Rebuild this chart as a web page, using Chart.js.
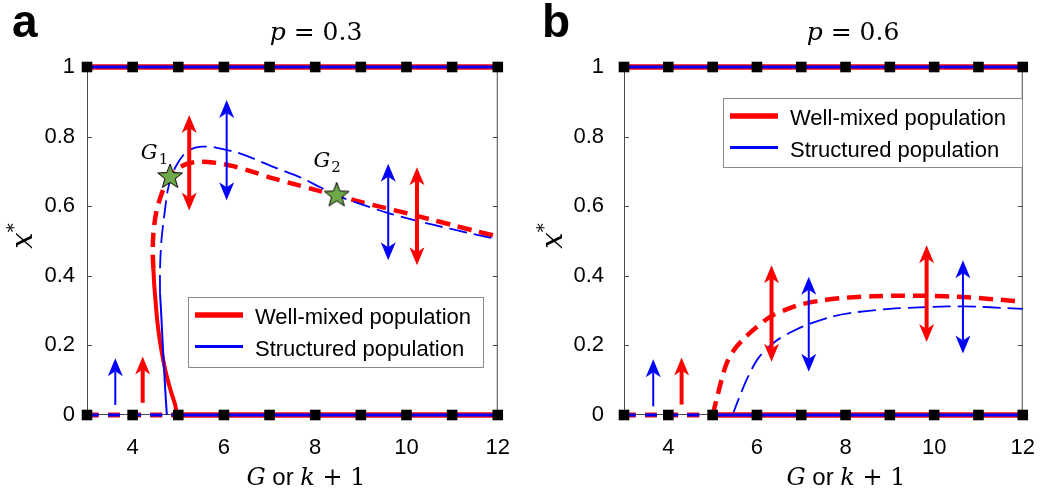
<!DOCTYPE html>
<html>
<head>
<meta charset="utf-8">
<script src="https://cdn.jsdelivr.net/npm/chart.js@4.4.0/dist/chart.umd.min.js"></script>
<style>
  html, body { margin: 0; padding: 0; background: #fff; }
  #wrap { position: relative; width: 1055px; height: 497px; }
  .panel { position: absolute; top: 0; height: 497px; }
</style>
</head>
<body>
<div id="wrap">
  <div class="panel" style="left:0;width:530px"><canvas id="chartA" width="530" height="497"></canvas></div>
  <div class="panel" style="left:530px;width:525px"><canvas id="chartB" width="525" height="497"></canvas></div>
</div>
<script>
// ---- data ----
var xTicks = [4, 6, 8, 10, 12];
var yTicks = [0, 0.2, 0.4, 0.6, 0.8, 1];
var squareX = [3, 4, 5, 6, 7, 8, 9, 10, 11, 12];
var zeroUnstableX = [3, 5];
var zeroStableX = [5, 12];
var oneStableX = [3, 12];

// panel a, p = 0.3
var aWellSolid = [[4.97, 0], [4.93, 0.03], [4.85, 0.063], [4.75, 0.11], [4.67, 0.158], [4.6, 0.21],
  [4.54, 0.27], [4.5, 0.33], [4.47, 0.38], [4.455, 0.42]];
var aWellDashed = [[4.455, 0.42], [4.44, 0.47], [4.46, 0.53], [4.52, 0.585], [4.62, 0.63], [4.72, 0.662],
  [4.82, 0.684], [5.0, 0.708], [5.2, 0.722], [5.5, 0.728], [5.8, 0.725], [6.2, 0.715], [6.6, 0.7],
  [7.08, 0.68], [7.5, 0.665], [8, 0.647], [8.47, 0.631], [9, 0.612], [9.5, 0.596], [10, 0.58],
  [10.5, 0.563], [11, 0.546], [11.5, 0.529], [12, 0.513]];
var aStructSolid = [[4.75, 0], [4.72, 0.06], [4.69, 0.13], [4.66, 0.2], [4.63, 0.28], [4.6, 0.35]];
var aStructDashed = [[4.6, 0.35], [4.6, 0.42], [4.63, 0.5], [4.69, 0.57], [4.77, 0.646], [4.86, 0.69],
  [4.97, 0.72], [5.1, 0.745], [5.25, 0.762], [5.5, 0.771], [5.8, 0.769], [6.36, 0.751], [7.08, 0.713],
  [7.67, 0.683], [8.1, 0.655], [8.47, 0.631], [9, 0.606], [9.6, 0.58], [10, 0.566], [10.5, 0.549],
  [11, 0.534], [11.5, 0.519], [12, 0.505]];
var aStars = [[4.82, 0.684], [8.47, 0.631]];
var aStarNames = ['1', '2'];
var aStarLabelAt = [[4.18, 0.737], [7.96, 0.712]];
// arrows: [x, base, tip]
var aWellArrows = [[4.22, 0.035, 0.168], [5.24, 0.727, 0.862], [5.24, 0.727, 0.588],
  [10.23, 0.57, 0.712], [10.23, 0.57, 0.43]];
var aStructArrows = [[3.62, 0.029, 0.163], [6.06, 0.76, 0.905], [6.06, 0.76, 0.617],
  [9.6, 0.58, 0.722], [9.6, 0.58, 0.445]];

// panel b, p = 0.6
var bWellDashed = [[5, 0], [5.1, 0.05], [5.2, 0.1], [5.32, 0.15], [5.5, 0.19], [5.75, 0.225], [5.97, 0.25],
  [6.33, 0.285], [6.7, 0.305], [7, 0.318], [7.5, 0.33], [8, 0.337], [8.6, 0.341], [9.3, 0.343],
  [10, 0.342], [10.5, 0.34], [11, 0.336], [11.5, 0.331], [12, 0.326]];
var bStructDashed = [[5.45, 0], [5.6, 0.05], [5.8, 0.11], [6.04, 0.165], [6.4, 0.21], [6.8, 0.24],
  [7.17, 0.261], [7.7, 0.283], [8.22, 0.295], [9, 0.305], [9.67, 0.309], [10.3, 0.312], [11, 0.311],
  [11.5, 0.308], [12, 0.305]];
var bWellArrows = [[4.3, 0.03, 0.165], [6.33, 0.288, 0.43], [6.33, 0.288, 0.153],
  [9.83, 0.342, 0.488], [9.83, 0.342, 0.21]];
var bStructArrows = [[3.66, 0.025, 0.16], [7.17, 0.261, 0.397], [7.17, 0.261, 0.124],
  [10.65, 0.312, 0.445], [10.65, 0.312, 0.177]];

var RED = '#ff0000', BLUE = '#0000ff';
var SANS = '"Liberation Sans", Arial, sans-serif';
var SERIF = '"DejaVu Serif", serif';

function pts(arr) { return arr.map(function (p) { return {x: p[0], y: p[1]}; }); }
function flat(xs, y) { return xs.map(function (x) { return {x: x, y: y}; }); }

function starImage(r, fill) {
  var c = document.createElement('canvas');
  c.width = c.height = 2 * r + 4;
  var g = c.getContext('2d');
  g.translate(r + 2, r + 2);
  g.beginPath();
  for (var i = 0; i < 10; i++) {
    var rr = i % 2 ? r * 0.42 : r;
    var a = -Math.PI / 2 + i * Math.PI / 5;
    g.lineTo(rr * Math.cos(a), rr * Math.sin(a));
  }
  g.closePath();
  g.fillStyle = fill;
  g.fill();
  g.lineWidth = 1;
  g.strokeStyle = '#000';
  g.stroke();
  return c;
}

function line(data, color, width, dash, order, label) {
  return {
    label: label || '', data: data, borderColor: color, borderWidth: width, borderDash: dash || [],
    pointRadius: 0, tension: 0.3, clip: false, order: order, fill: false, inLegend: !!label
  };
}

function drawArrow(ctx, x, yb, yt, color, w) {
  var d = yt < yb ? -1 : 1;
  var hl = 18, hw = 7.5, notch = 13;
  ctx.save();
  ctx.strokeStyle = color;
  ctx.lineWidth = w;
  ctx.beginPath();
  ctx.moveTo(x, yb);
  ctx.lineTo(x, yt - d * notch);
  ctx.stroke();
  ctx.fillStyle = color;
  ctx.beginPath();
  ctx.moveTo(x, yt);
  ctx.lineTo(x - hw, yt - d * hl);
  ctx.lineTo(x, yt - d * notch);
  ctx.lineTo(x + hw, yt - d * hl);
  ctx.closePath();
  ctx.fill();
  ctx.restore();
}

// mixed-font text, centred on cx
function drawRuns(ctx, runs, cx, y) {
  var total = 0;
  runs.forEach(function (r) { ctx.font = r.f; r.w = ctx.measureText(r.t).width; total += r.w; });
  var x = cx - total / 2;
  ctx.textBaseline = 'alphabetic';
  ctx.textAlign = 'left';
  runs.forEach(function (r) { ctx.font = r.f; ctx.fillText(r.t, x, y + (r.dy || 0)); x += r.w; });
}

function decor(cfg) {
  return {
    id: 'decor',
    beforeDatasetsDraw: function (chart) {
      var ctx = chart.ctx, a = chart.chartArea, xs = chart.scales.x, ys = chart.scales.y;
      ctx.save();
      ctx.strokeStyle = '#4a4a4a';
      ctx.lineWidth = 1;
      ctx.strokeRect(a.left + 0.5, a.top + 0.5, a.right - a.left - 1, a.bottom - a.top - 1);
      ctx.beginPath();
      yTicks.forEach(function (v) {
        var py = Math.round(ys.getPixelForValue(v)) + 0.5;
        ctx.moveTo(a.left, py); ctx.lineTo(a.left + 5, py);
        ctx.moveTo(a.right, py); ctx.lineTo(a.right - 5, py);
      });
      xTicks.forEach(function (v) {
        var px = Math.round(xs.getPixelForValue(v)) + 0.5;
        ctx.moveTo(px, a.bottom); ctx.lineTo(px, a.bottom - 5);
        ctx.moveTo(px, a.top); ctx.lineTo(px, a.top + 5);
      });
      ctx.stroke();
      ctx.restore();
    },
    afterDatasetsDraw: function (chart) {
      var ctx = chart.ctx, xs = chart.scales.x, ys = chart.scales.y;
      cfg.wellArrows.forEach(function (r) {
        drawArrow(ctx, xs.getPixelForValue(r[0]), ys.getPixelForValue(r[1]), ys.getPixelForValue(r[2]), RED, 4);
      });
      cfg.structArrows.forEach(function (r) {
        drawArrow(ctx, xs.getPixelForValue(r[0]), ys.getPixelForValue(r[1]), ys.getPixelForValue(r[2]), BLUE, 2);
      });
    },
    afterDraw: function (chart) {
      var ctx = chart.ctx, xs = chart.scales.x, ys = chart.scales.y, L = cfg.layout;
      ctx.save();
      ctx.fillStyle = '#000';
      // panel letter
      ctx.font = 'bold 46px ' + SANS;
      ctx.textAlign = 'left';
      ctx.textBaseline = 'alphabetic';
      ctx.fillText(cfg.letter, L.letterX, 37);
      // title
      drawRuns(ctx, [
        {t: 'p', f: 'italic 25px ' + SERIF},
        {t: ' = ', f: '25px ' + SERIF},
        {t: cfg.p, f: '25px ' + SERIF}
      ], L.titleX, 40);
      // x title
      drawRuns(ctx, [
        {t: 'G', f: 'italic 24px ' + SERIF},
        {t: ' or ', f: '24px ' + SANS},
        {t: 'k', f: 'italic 24px ' + SERIF},
        {t: ' + 1', f: '24px ' + SERIF}
      ], L.xTitleX, 485);
      // y title
      ctx.save();
      ctx.translate(L.yTitleX, 236);
      ctx.rotate(-Math.PI / 2);
      drawRuns(ctx, [
        {t: 'x', f: 'italic 29px ' + SERIF},
        {t: '*', f: '18px ' + SERIF, dy: -12}
      ], 0, 8);
      ctx.restore();
      // star labels
      cfg.starLabels.forEach(function (s, i) {
        var px = xs.getPixelForValue(s[0]), py = ys.getPixelForValue(s[1]);
        ctx.textAlign = 'left';
        ctx.font = 'italic 21px ' + SERIF;
        ctx.fillText('G', px, py);
        var w = ctx.measureText('G').width;
        ctx.font = '15px ' + SERIF;
        ctx.fillText(cfg.starNames[i], px + w + 1, py + 5);
      });
      // legend
      var b = L.legend;
      ctx.fillStyle = '#fff';
      ctx.fillRect(b[0], b[1], b[2] - b[0], b[3] - b[1]);
      ctx.strokeStyle = '#8a8a8a';
      ctx.lineWidth = 1;
      ctx.strokeRect(b[0] + 0.5, b[1] + 0.5, b[2] - b[0], b[3] - b[1]);
      var items = chart.data.datasets.filter(function (d) { return d.inLegend; });
      ctx.font = '22px ' + SANS;
      ctx.textBaseline = 'alphabetic';
      ctx.textAlign = 'left';
      items.forEach(function (d, i) {
        var yy = b[1] + 18 + i * 31.5;
        ctx.strokeStyle = d.borderColor;
        ctx.lineWidth = d.borderWidth;
        ctx.beginPath();
        ctx.moveTo(b[0] + 7, yy);
        ctx.lineTo(b[0] + 55, yy);
        ctx.stroke();
        ctx.fillStyle = '#000';
        ctx.fillText(d.label, b[0] + 67, yy + 9);
      });
      ctx.restore();
    }
  };
}

function tickText(v) { return String(Math.round(v * 10) / 10); }

function makePanel(id, cfg) {
  var L = cfg.layout;
  var ds = [];
  ds.push({data: flat(squareX, 0), pointStyle: 'rect', pointRadius: 7.5, pointBackgroundColor: '#000',
    pointBorderWidth: 0, showLine: false, clip: false, order: 0});
  ds.push({data: flat(squareX, 1), pointStyle: 'rect', pointRadius: 7.5, pointBackgroundColor: '#000',
    pointBorderWidth: 0, showLine: false, clip: false, order: 0});
  if (cfg.stars.length) {
    ds.push({data: pts(cfg.stars), pointStyle: starImage(13, '#6fa84a'), pointRadius: 13,
      showLine: false, clip: false, order: -1});
  }
  ds.push(line(flat(oneStableX, 1), RED, 5.5, null, 4, 'Well-mixed population'));
  ds.push(line(flat(oneStableX, 1), BLUE, 3, null, 3, 'Structured population'));
  ds.push(line(flat(zeroStableX, 0), RED, 5.5, null, 4));
  ds.push(line(flat(zeroStableX, 0), BLUE, 3, null, 3));
  ds.push(line(flat(zeroUnstableX, 0), RED, 5, [12, 9], 4));
  ds.push(line(flat(zeroUnstableX, 0), BLUE, 3, [12, 9], 3));
  if (cfg.wellSolid) ds.push(line(pts(cfg.wellSolid), RED, 4, null, 6));
  ds.push(line(pts(cfg.wellDashed), RED, 4.5, [14, 8], 6));
  if (cfg.structSolid) ds.push(line(pts(cfg.structSolid), BLUE, 2, null, 5));
  ds.push(line(pts(cfg.structDashed), BLUE, 1.8, [18, 7], 5));

  return new Chart(document.getElementById(id), {
    type: 'line',
    data: {datasets: ds},
    options: {
      responsive: false,
      animation: false,
      devicePixelRatio: 1,
      layout: {padding: {left: 0, right: L.padRight, top: 67, bottom: 0}},
      plugins: {legend: {display: false}, tooltip: {enabled: false}},
      scales: {
        x: {
          type: 'linear', min: 3, max: 12,
          grid: {display: false, drawTicks: false}, border: {display: false},
          afterBuildTicks: function (s) { s.ticks = xTicks.map(function (v) { return {value: v}; }); },
          afterFit: function (s) { s.height = 82; },
          ticks: {padding: 20, color: '#000', font: {family: SANS, size: 22}, callback: tickText}
        },
        y: {
          type: 'linear', min: 0, max: 1,
          grid: {display: false, drawTicks: false}, border: {display: false},
          afterBuildTicks: function (s) { s.ticks = yTicks.map(function (v) { return {value: v}; }); },
          afterFit: function (s) { s.width = L.yWidth; },
          ticks: {padding: L.yPad, color: '#000', font: {family: SANS, size: 22}, callback: tickText}
        }
      }
    },
    plugins: [decor(cfg)]
  });
}

makePanel('chartA', {
  letter: 'a', p: '0.3',
  wellSolid: aWellSolid, wellDashed: aWellDashed,
  structSolid: aStructSolid, structDashed: aStructDashed,
  stars: aStars, starNames: aStarNames, starLabels: aStarLabelAt,
  wellArrows: aWellArrows, structArrows: aStructArrows,
  layout: {yWidth: 87, yPad: 12, padRight: 32, letterX: 12, titleX: 316, xTitleX: 306, yTitleX: 24,
    legend: [188, 297, 483, 367]}
});

makePanel('chartB', {
  letter: 'b', p: '0.6',
  wellSolid: null, wellDashed: bWellDashed,
  structSolid: null, structDashed: bStructDashed,
  stars: [], starNames: [], starLabels: [],
  wellArrows: bWellArrows, structArrows: bStructArrows,
  layout: {yWidth: 94, yPad: 20, padRight: 18, letterX: 12, titleX: 323, xTitleX: 316, yTitleX: 24,
    legend: [193, 98, 492, 167]}
});
</script>
</body>
</html>
